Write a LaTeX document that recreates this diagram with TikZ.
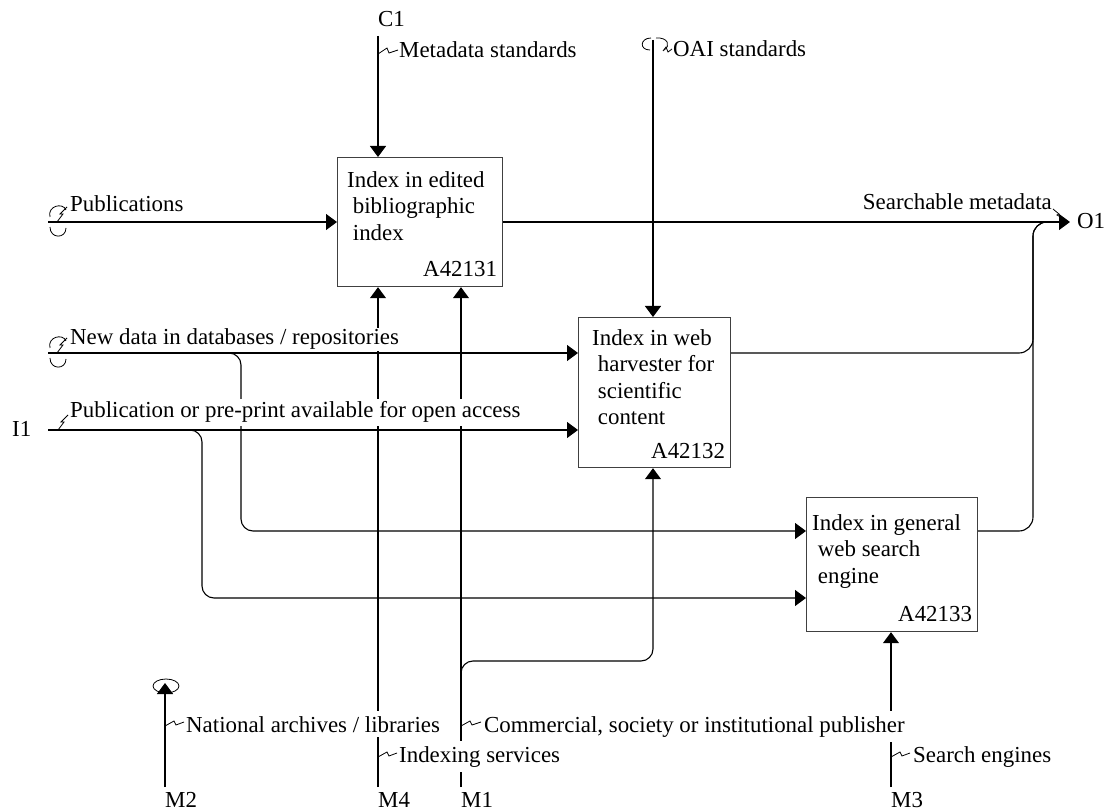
\documentclass[tikz,border=0pt]{standalone}
\usepackage{fontspec}
\setmainfont{Liberation Serif}
\usetikzlibrary{arrows.meta}
\begin{document}
\begin{tikzpicture}[x=1pt,y=-1pt,
  every node/.style={font=\fontsize{22.9}{26.6}\selectfont, inner sep=0pt},
  box/.style={draw=black!75, line width=1.2pt, anchor=north west, fill=white},
  ln/.style={line width=1.1pt, black},
  arr/.style={ln, -{Triangle[length=11pt,width=16pt]}},
  lab/.style={anchor=base west, fill=white, inner xsep=1pt, inner ysep=1pt},
  blab/.style={lab, inner ysep=5pt},
  sq/.style={line width=0.8pt},
  tun/.style={line width=0.8pt}]
\useasboundingbox (0,0) rectangle (1112,810);

% boxes
\node[box, minimum width=165pt, minimum height=129pt] (b1) at (337,157) {};
\node[box, minimum width=152pt, minimum height=150pt] (b2) at (578,317) {};
\node[box, minimum width=171pt, minimum height=134pt] (b3) at (806,497) {};
\node[anchor=north west, align=left] (b1t) at (347,171) {Index in edited\\\hspace*{0.25em}bibliographic\\\hspace*{0.25em}index};
\node[anchor=north west, align=left] (b2t) at (592,329) {Index in web\\\hspace*{0.25em}harvester for\\\hspace*{0.25em}scientific\\\hspace*{0.25em}content};
\node[anchor=north west, align=left] (b3t) at (812,514) {Index in general\\\hspace*{0.25em}web search\\\hspace*{0.25em}engine};
\node[anchor=base east] (b1id) at ([shift={(-6,-11)}]b1.south east) {A42131};
\node[anchor=base east] (b2id) at ([shift={(-6,-10)}]b2.south east) {A42132};
\node[anchor=base east] (b3id) at ([shift={(-6,-11)}]b3.south east) {A42133};

% coordinates
\coordinate (c1) at (378,36);
\coordinate (oai) at (653,40);
\coordinate (i2) at (48,222);
\coordinate (i3) at (48,353);
\coordinate (i1) at (48,430);
\coordinate (i3b) at (200,353);
\coordinate (i1b) at (175,430);
\coordinate (y531) at (0,531);
\coordinate (y598) at (0,598);
\coordinate (m2) at (165,787);
\coordinate (m2t) at (165,683);
\coordinate (m4) at (378,787);
\coordinate (m1) at (461,787);
\coordinate (m1b) at (461,700);
\coordinate (m1c) at (653,661);
\coordinate (m3) at (891,787);
\coordinate (o1) at (1070,222);
\coordinate (oj) at (1033,222);
\coordinate (oe) at (1055,222);

% controls
\draw[arr] (c1) -- (c1 |- b1.north);
\draw[arr] (oai) -- (oai |- b2.north);
% inputs
\draw[arr] (i2) -- (i2 -| b1.west);
\draw[arr] (i3) -- (i3 -| b2.west);
\draw[arr] (i1) -- (i1 -| b2.west);
\draw[arr, rounded corners=12pt] (i3b) -| (241,531) -- (b3.west |- y531);
\draw[arr, rounded corners=12pt] (i1b) -| (202,598) -- (b3.west |- y598);
% mechanisms
\draw[arr] (m2) -- (m2t);
\draw[arr] (m4) -- (m4 |- b1.south);
\draw[arr] (m1) -- (m1 |- b1.south);
\draw[arr, rounded corners=12pt] (m1b) |- (m1c) -- (oai |- b2.south);
\draw[arr] (m3) -- (m3 |- b3.south);
% outputs
\draw[arr] (o1 -| b1.east) -- (o1);
\draw[ln, rounded corners=14pt] (b2.east |- i3) -| (oj) -- (oe);
\draw[ln, rounded corners=14pt] (b3.east |- y531) -| (oj) -- (oe);

% labels
\node[anchor=base west] (lc1) at (378,27) {C1};
\node[lab] (lmeta) at (398,58) {Metadata standards};
\node[lab] (loai) at (672,57) {OAI standards};
\node[lab] (lpub) at (69,212) {Publications};
\node[lab, anchor=base east] (lsm) at (1053,210) {Searchable metadata};
\node[anchor=base west] (lo1) at (1077,229) {O1};
\node[lab] (lnew) at (69,345) {New data in databases / repositories};
\node[lab, inner ysep=3pt] (lpre) at (69,418) {Publication or pre-print available for open access};
\node[anchor=base west] (li1) at (12,437) {I1};
\node[blab] (lnat) at (185,732) {National archives / libraries};
\node[blab] (lidx) at (398,762) {Indexing services};
\node[blab] (lcom) at (483,732) {Commercial, society or institutional publisher};
\node[blab] (lse) at (912,762) {Search engines};
\node[anchor=base west] (lm2) at (165,807) {M2};
\node[anchor=base west] (lm4) at (378,807) {M4};
\node[anchor=base west] (lm1) at (461,807) {M1};
\node[anchor=base west] (lm3) at (891,807) {M3};

% squiggles
\draw[sq] (378,54) -- (387,48) -- (389,53) -- (lmeta.west |- 0,50);
\draw[sq] (663,51) -- (666,47) -- (668,52) -- (loai.west |- 0,49);
\draw[sq] (57,222) -- (63,214) -- (60,214) -- (67,207);
\draw[sq] (57,353) -- (63,345) -- (60,345) -- (67,338);
\draw[sq] (58,430) -- (64,422) -- (61,422) -- (68,415);
\draw[sq] (1053,209) -- (1059,214) -- (1057,215) -- (1064,219);
\draw[sq] (165,726) -- (174,721) -- (176,725) -- (184,722);
\draw[sq] (378,757) -- (387,752) -- (389,756) -- (397,753);
\draw[sq] (461,726) -- (470,721) -- (472,725) -- (481,722);
\draw[sq] (891,757) -- (900,752) -- (902,756) -- (910,753);

% tunnels
\draw[tun] (50,217) .. controls (47,206) and (63,202) .. (66,210);
\draw[tun] (50,227) .. controls (50,239) and (66,239) .. (66,228);
\draw[tun] (50,348) .. controls (47,337) and (63,333) .. (66,341);
\draw[tun] (50,358) .. controls (50,370) and (66,370) .. (66,359);
\draw[tun] (651,38) .. controls (640,38) and (639,50) .. (650,50);
\draw[tun] (656,38) .. controls (668,37) and (671,46) .. (664,50);
\draw[tun] (166,686) ellipse [x radius=13, y radius=7];
\end{tikzpicture}
\end{document}
